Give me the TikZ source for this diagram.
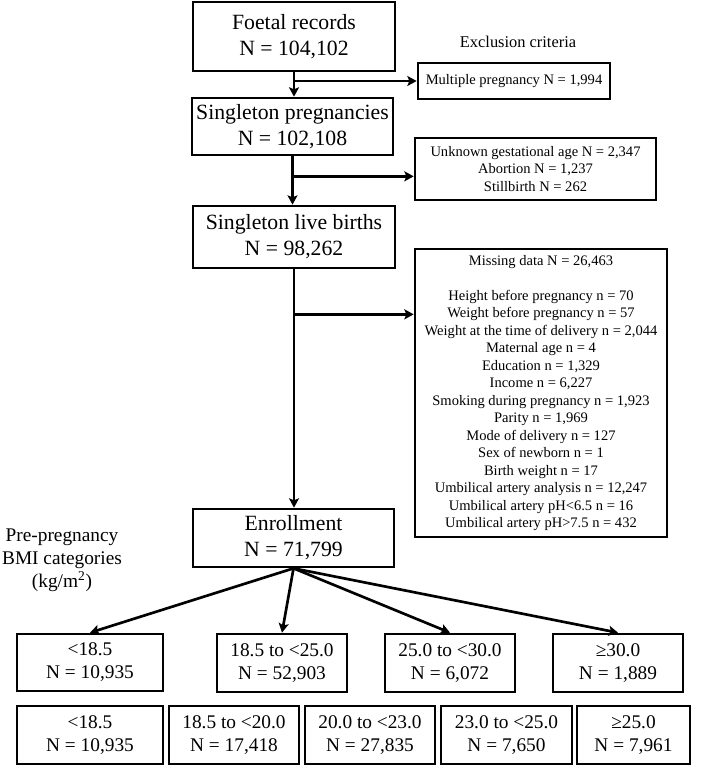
\documentclass[tikz,border=0pt]{standalone}
\usepackage{fontspec}
\setmainfont{Liberation Serif}
\usetikzlibrary{arrows.meta,calc}
\begin{document}
\begin{tikzpicture}[x=0.75pt,y=-0.75pt,
  box/.style={draw,line width=2pt,inner sep=0pt,align=center},
  sz/.style 2 args={minimum width=#1*0.75pt,minimum height=#2*0.75pt},
  big/.style={box,font=\fontsize{16.3}{19.5}\selectfont},
  mid/.style={box,font=\fontsize{14.5}{17.3}\selectfont},
  small/.style={box,font=\fontsize{10.9}{13.1}\selectfont},
  lbl/.style={align=center,inner sep=0pt},
  arr/.style={line width=2pt,-{Stealth[length=7pt,width=7.5pt,inset=1.5pt]}},
  ln/.style={line width=2pt}]
\useasboundingbox (0,0) rectangle (708,766);

% main column
\node[big,sz={202}{69}] (foetal) at (294,36.5) {Foetal records\\N = 104,102};
\node[big,sz={201}{57}] (singpreg) at (292.5,126.5) {Singleton pregnancies\\N = 102,108};
\node[big,sz={202}{62}] (singlive) at (294,237) {Singleton live births\\N = 98,262};
\node[big,sz={201}{58}] (enroll) at (293.5,538) {Enrollment\\N = 71,799};

% exclusion side
\node[lbl,font=\fontsize{12.3}{14.5}\selectfont] (excl) at (518,42) {Exclusion criteria};
\node[small,sz={192}{36}] (multi) at (514,81) {Multiple pregnancy N = 1,994};
\node[small,sz={241}{62}] (unknown) at (535.5,169) {Unknown gestational age N = 2,347\\Abortion N = 1,237\\Stillbirth N = 262};
\node[small,sz={252}{288}] (missing) at (541,393) {Missing data N = 26,463\\[13.1pt]
Height before pregnancy n = 70\\
Weight before pregnancy n = 57\\
Weight at the time of delivery n = 2,044\\
Maternal age n = 4\\
Education n = 1,329\\
Income n = 6,227\\
Smoking during pregnancy n = 1,923\\
Parity n = 1,969\\
Mode of delivery n = 127\\
Sex of newborn n = 1\\
Birth weight n = 17\\
Umbilical artery analysis n = 12,247\\
Umbilical artery pH<6.5 n = 16\\
Umbilical artery pH>7.5 n = 432};

% BMI label
\node[lbl,font=\fontsize{14.5}{17.3}\selectfont] (bmilbl) at (62,560) {Pre-pregnancy\\BMI categories\\(kg/m\textsuperscript{2})};

% row 1
\node[mid,sz={146}{57}] (ra) at (90,662.5) {<18.5\\N = 10,935};
\node[mid,sz={130}{58}] (rb) at (282,663) {18.5 to <25.0\\N = 52,903};
\node[mid,sz={130}{58}] (rc) at (450,663) {25.0 to <30.0\\N = 6,072};
\node[mid,sz={130}{58}] (rd) at (618,663) {≥30.0\\N = 1,889};

% row 2
\node[mid,sz={146}{58}] (sa) at (90,735) {<18.5\\N = 10,935};
\node[mid,sz={130}{58}] (sb) at (234,735) {18.5 to <20.0\\N = 17,418};
\node[mid,sz={130}{58}] (sc) at (370,735) {20.0 to <23.0\\N = 27,835};
\node[mid,sz={131}{58}] (sd) at (506.5,735) {23.0 to <25.0\\N = 7,650};
\node[mid,sz={113}{58}] (se) at (633.5,735) {≥25.0\\N = 7,961};

% connectors
\draw[arr] (foetal.south) -- (foetal.south |- singpreg.north);
\draw[arr] (foetal.south |- multi.west) -- (multi.west);

\coordinate (b2) at ($(singpreg.south)+(0,20)$);
\draw[arr] (singpreg.south) -- (singpreg.south |- singlive.north);
\draw[arr] (b2) -- (b2 -| unknown.west);

\coordinate (b3) at ($(singlive.south)+(0,45)$);
\draw[arr] (singlive.south) -- (singlive.south |- enroll.north);
\draw[arr] (b3) -- (b3 -| missing.west);

\draw[arr] (enroll.south) -- (ra.north);
\draw[arr] (enroll.south) -- (rb.north);
\draw[arr] (enroll.south) -- (rc.north);
\draw[arr] (enroll.south) -- (rd.north);
\end{tikzpicture}
\end{document}
